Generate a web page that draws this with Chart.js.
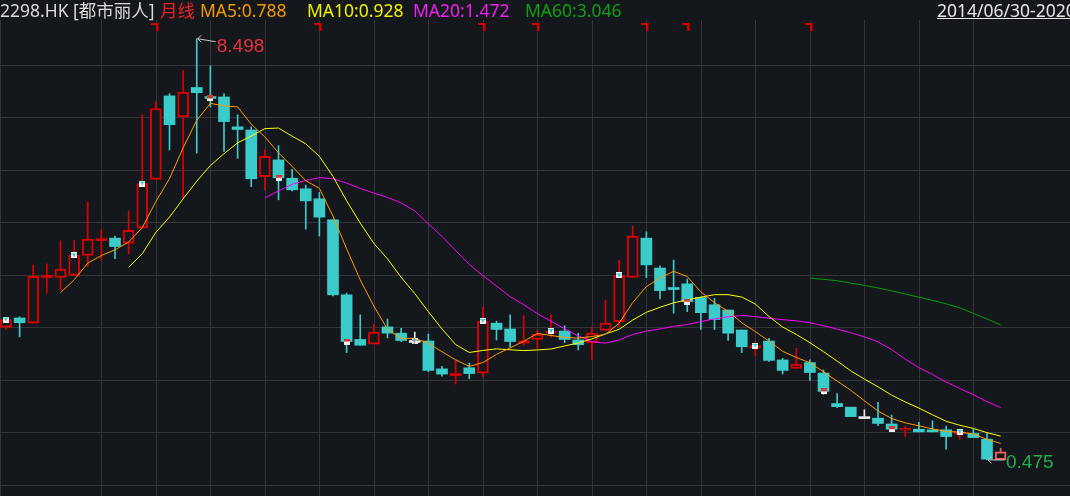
<!DOCTYPE html>
<html>
<head>
<meta charset="utf-8">
<script src="https://cdn.jsdelivr.net/npm/chart.js@4.4.1/dist/chart.umd.min.js"></script>
<style>
html,body{margin:0;padding:0;background:#14171c;overflow:hidden;}
#wrap{position:relative;width:1070px;height:496px;}
#c{position:absolute;left:0;top:0;}
#hdr{position:absolute;left:0;top:0;width:1070px;height:22px;overflow:hidden;white-space:nowrap;
  font-family:"Noto Sans","Noto Sans CJK SC",sans-serif;font-size:17.5px;line-height:20px;}
#hdr span{position:absolute;top:0px;}
</style>
</head>
<body>
<div id="wrap">
<canvas id="c" width="1070" height="496"></canvas>
<div id="hdr">
  <span style="left:0;color:#dadada">2298.HK [都市丽人]</span>
  <span style="left:160px;color:#f02020">月线</span>
  <span style="left:200px;color:#f39a00">MA5:0.788</span>
  <span style="left:307px;color:#f0f000">MA10:0.928</span>
  <span style="left:413px;color:#f020f0">MA20:1.472</span>
  <span style="left:525px;color:#10a010">MA60:3.046</span>
  <span style="left:937px;color:#e6e6e6;text-decoration:underline">2014/06/30-2020/07/31</span>
</div>
</div>
<script>
// ---- data (monthly candles) ----
const months = ["2014/06","2014/07","2014/08","2014/09","2014/10","2014/11","2014/12",
"2015/01","2015/02","2015/03","2015/04","2015/05","2015/06","2015/07","2015/08","2015/09","2015/10","2015/11","2015/12",
"2016/01","2016/02","2016/03","2016/04","2016/05","2016/06","2016/07","2016/08","2016/09","2016/10","2016/11","2016/12",
"2017/01","2017/02","2017/03","2017/04","2017/05","2017/06","2017/07","2017/08","2017/09","2017/10","2017/11","2017/12",
"2018/01","2018/02","2018/03","2018/04","2018/05","2018/06","2018/07","2018/08","2018/09","2018/10","2018/11","2018/12",
"2019/01","2019/02","2019/03","2019/04","2019/05","2019/06","2019/07","2019/08","2019/09","2019/10","2019/11","2019/12",
"2020/01","2020/02","2020/03","2020/04","2020/05","2020/06","2020/07"];
const opens = [3.00,3.18,3.08,3.99,3.95,3.99,4.37,4.69,4.70,4.60,
 4.89,5.82,7.41,7.01,7.57,7.39,7.39,6.82,6.76,5.87,
 6.19,5.84,5.64,5.45,5.05,3.62,2.77,2.68,3.01,2.89,
 2.75,2.74,2.21,2.12,2.23,2.13,3.08,2.97,2.74,2.77,
 2.89,2.93,2.76,2.71,2.94,3.11,3.95,4.70,4.13,3.76,
 3.83,3.57,3.43,3.33,2.95,2.65,2.74,2.38,2.22,2.33,
 2.13,1.55,1.48,1.30,1.27,1.16,1.04,1.06,1.03,1.05,
 1.01,0.98,0.87,0.48];
const highs = [3.17,3.20,4.19,4.21,4.65,4.66,5.39,4.86,4.74,5.22,
 7.05,7.30,7.45,7.89,8.498,7.98,7.45,7.05,6.82,6.38,
 6.46,6.01,5.71,5.57,5.05,3.65,3.24,3.06,3.16,2.98,
 2.91,2.87,2.26,2.38,2.32,3.38,3.12,3.24,3.22,2.95,
 3.24,3.03,2.89,3.01,3.52,4.28,4.93,4.82,4.17,4.28,
 3.92,3.58,3.55,3.33,2.95,2.73,2.79,2.41,2.60,2.38,
 2.19,1.74,1.48,1.43,1.57,1.33,1.12,1.19,1.22,1.12,
 1.05,1.06,0.98,0.70];
const lows = [2.96,2.82,3.08,3.65,3.71,3.99,4.16,4.28,4.31,4.40,
 4.89,5.82,6.38,5.46,6.32,7.20,6.35,6.22,5.68,5.62,
 5.43,5.60,4.87,4.74,3.60,2.52,2.66,2.68,2.80,2.73,
 2.70,2.16,2.07,1.92,2.02,2.06,2.76,2.63,2.66,2.60,
 2.81,2.71,2.57,2.38,2.94,3.01,3.95,3.95,3.54,3.27,
 3.30,2.96,2.96,2.75,2.52,2.46,2.35,2.11,2.22,1.99,
 1.72,1.47,1.30,1.30,1.13,1.02,0.92,1.01,1.01,0.68,
 0.87,0.90,0.475,0.48];
const closes = [3.15,3.09,3.97,3.99,4.11,4.37,4.68,4.69,4.54,4.85,
 5.74,7.17,6.86,7.48,7.47,7.36,6.92,6.77,5.83,6.26,
 5.85,5.62,5.41,5.10,3.62,2.73,2.66,2.91,2.89,2.75,
 2.75,2.18,2.11,2.12,2.12,3.12,2.96,2.73,2.74,2.87,
 2.93,2.77,2.67,2.89,3.08,3.99,4.74,4.19,3.70,3.72,
 3.49,3.28,3.15,2.89,2.63,2.65,2.37,2.18,2.30,2.14,
 1.78,1.49,1.30,1.30,1.17,1.06,1.08,1.01,1.01,0.92,
 1.01,0.90,0.49,0.63];
const markIdx = [0,5,10,15,20,25,30,35,40,45,50,55,60,65,70];   // info markers
const exRightIdx = [11,23,35,39,47,50,59];                       // red top flags
const yTicks = [0,1,2,3,4,5,6,7,8];
const xGridIdx = [7,11,15,19,23,27,31,35,39,43,47,51,55,59,63,67,71];
const maPeriods = [5,10,20,60];

// ---- styling ----
const BG='#14171c', GRID='#33353a', UP='#dc0000', DOWN='#3bcbcb', FLAT='#e8e8e8', LASTC='#e8625e';
const MA_COLORS = {5:'#ff9c00',10:'#ffff00',20:'#ff00ff',60:'#00a000'};
const N = closes.length;

const dir = closes.map((c,i)=>{
  if (c>opens[i]) return 1;
  if (c<opens[i]) return -1;
  if (i===0) return 1;
  return c>closes[i-1]?1:(c<closes[i-1]?-1:0);
});
const col = dir.map((d,i)=> i===N-1?LASTC : d===1?UP : d===-1?DOWN : FLAT);
const bodyFill = closes.map((c,i)=> c>opens[i]?BG:col[i]);
const bodyBW = closes.map((c,i)=> c>opens[i]?2:0);

function movingAvg(len){
  return closes.map((_,i)=>{
    if(i<len-1) return null;
    let s=0; for(let k=i-len+1;k<=i;k++) s+=closes[k];
    return s/len;
  });
}

function makeMark(type){
  const c=document.createElement('canvas'); c.width=6; c.height=6;
  const g=c.getContext('2d');
  g.fillStyle='#f2f2f2'; g.fillRect(0,0,6,6);
  if(type===1){ g.fillStyle=DOWN; g.fillRect(0,1,6,1); g.fillRect(2,1,2,3); }
  else if(type===-1){ g.fillStyle='#d03838'; g.fillRect(0,0,6,3); }
  else { g.fillStyle='#777'; g.fillRect(0,2,6,1); g.fillRect(2,0,1,6); }
  return c;
}
const markImgs = {'1':makeMark(1),'-1':makeMark(-1),'0':makeMark(0)};

const xMin = -6/13.625, xMax = xMin + 1070/13.625;
const yMin = -0.212, yMax = 8.855;

function drawTag(ctx, px, py, text, color, len, dy, base){
  ctx.strokeStyle='#c8c8c8'; ctx.lineWidth=1;
  ctx.beginPath(); ctx.moveTo(px+4.5,py-3.5); ctx.lineTo(px+1,py); ctx.lineTo(px+4.5,py+3.5); ctx.stroke();
  ctx.beginPath(); ctx.moveTo(px+1,py); ctx.lineTo(px+len,py+dy); ctx.stroke();
  ctx.font="19px 'Liberation Sans Narrow','Liberation Sans',sans-serif";
  ctx.fillStyle=color; ctx.textBaseline='alphabetic'; ctx.textAlign='left';
  ctx.fillText(text, px+len+1, py+base);
}

const gridPlugin = {
  id:'gridPlugin',
  beforeDatasetsDraw(chart){
    const {ctx, chartArea:a} = chart; const x=chart.scales.x, y=chart.scales.y;
    ctx.save(); ctx.fillStyle=GRID;
    ctx.fillRect(Math.round(a.left), a.top, 1, a.bottom-a.top);
    xGridIdx.forEach(v=>{ ctx.fillRect(Math.round(x.getPixelForValue(v)), a.top, 1, a.bottom-a.top); });
    yTicks.forEach(v=>{ ctx.fillRect(a.left, Math.round(y.getPixelForValue(v)), a.right-a.left, 1); });
    ctx.restore();
  }
};

const overlay = {
  id:'overlay',
  afterDatasetsDraw(chart){
    const {ctx, chartArea} = chart; const x=chart.scales.x, y=chart.scales.y;
    ctx.save();
    exRightIdx.forEach(i=>{
      const cx=Math.round(x.getPixelForValue(i)), t=chartArea.top+3;
      ctx.fillStyle='#d40000'; ctx.fillRect(cx-5,t,8,2); ctx.fillRect(cx,t,2,8);
      ctx.fillStyle='#8a0000'; ctx.fillRect(cx+2,t,1,8);
    });
    let hi=0, lo=0;
    highs.forEach((h,i)=>{ if(h>highs[hi]) hi=i; });
    lows.forEach((l,i)=>{ if(l<lows[lo]) lo=i; });
    drawTag(ctx, x.getPixelForValue(hi), y.getPixelForValue(highs[hi]), highs[hi].toFixed(3), '#e8323c', 19, 3, 13.5);
    drawTag(ctx, x.getPixelForValue(lo), y.getPixelForValue(lows[lo]), lows[lo].toFixed(3), '#22b04a', 18, 0, 8);
    ctx.restore();
  }
};

const datasets = [];
datasets.push({
  type:'line', label:'marks', showLine:false,
  data: markIdx.map(i=>({x:i,y:closes[i]})),
  pointStyle: (c)=> markImgs[String(dir[markIdx[c.dataIndex]] ?? 1)],
  pointRadius:3, pointHoverRadius:3, order:0
});
maPeriods.forEach(p=>{
  const m = movingAvg(p);
  datasets.push({
    type:'line', label:'MA'+p,
    data: m.map((v,i)=>({x:i,y:v})),
    borderColor: MA_COLORS[p], borderWidth:1, pointRadius:0, pointHoverRadius:0, spanGaps:false, tension:0, order:1
  });
});
datasets.push({
  type:'bar', label:'body', grouped:false,
  data: opens.map((o,i)=>({x:i,y:[o,closes[i]]})),
  backgroundColor: bodyFill, borderColor: col, borderWidth: bodyBW, borderSkipped:false,
  barThickness:11, minBarLength:2, order:2
});
datasets.push({
  type:'bar', label:'wick', grouped:false,
  data: lows.map((l,i)=>({x:i,y:[l,highs[i]]})),
  backgroundColor: col, borderWidth:0, barThickness:1, order:3
});

new Chart(document.getElementById('c'), {
  type:'bar',
  data:{ datasets },
  options:{
    responsive:false, animation:false, devicePixelRatio:1,
    layout:{ autoPadding:false, padding:{ top:20, left:0, right:0, bottom:0 } },
    plugins:{ legend:{display:false}, tooltip:{enabled:false} },
    scales:{
      x:{ type:'linear', display:false, min:xMin, max:xMax, offset:false, grid:{offset:false} },
      y:{ type:'linear', display:false, min:yMin, max:yMax }
    }
  },
  plugins:[gridPlugin, overlay]
});
</script>
</body>
</html>
